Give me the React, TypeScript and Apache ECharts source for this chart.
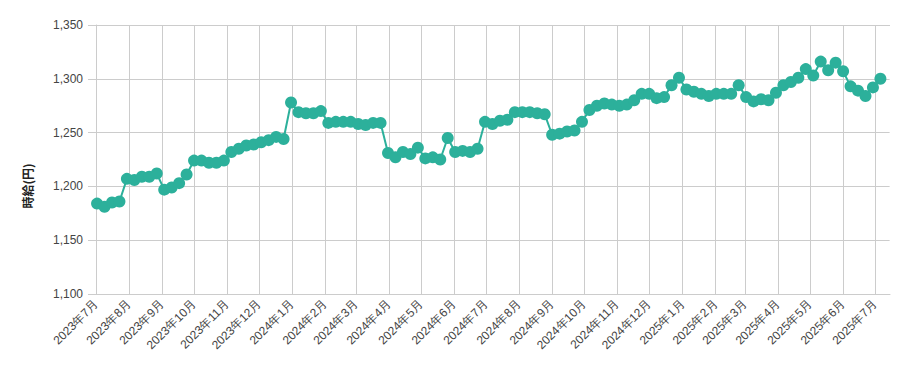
import React, { useEffect, useRef } from "react";
import * as echarts from "echarts";

// Weekly observations, first week starting 2023-07-02
const firstWeek = [2023, 7, 2];
const wageValues = [
  1184, 1181, 1185, 1186,
  1207, 1206, 1209, 1209, 1212,
  1197, 1199, 1203, 1211,
  1224, 1224, 1222, 1222, 1224,
  1232, 1235, 1238, 1239, 1241, 1243, 1246, 1244,
  1278, 1269, 1268, 1268, 1270,
  1259, 1260, 1260, 1260, 1258, 1257, 1259, 1259,
  1231, 1227, 1232, 1230, 1236,
  1226, 1227, 1225, 1245,
  1232, 1233, 1232, 1235,
  1260, 1258, 1261, 1262,
  1269, 1269, 1269, 1268, 1267,
  1248, 1249, 1251, 1252, 1260,
  1271, 1275, 1277, 1276, 1275, 1276,
  1280, 1286, 1286, 1282, 1283,
  1294, 1301,
  1290, 1288, 1286, 1284, 1286, 1286, 1286, 1294,
  1283, 1279, 1281, 1280,
  1287, 1294, 1297, 1301, 1309,
  1303, 1316, 1308, 1315, 1307,
  1293, 1289, 1284, 1292, 1300,
];
const axisStart = [2023, 7, 1];
const axisEnd = [2025, 7, 15];
const yTicks = [1100, 1150, 1200, 1250, 1300, 1350];
const yTitle = "時給(円)";

const mk = (ymd: number[], addDays = 0) => {
  const d = new Date(ymd[0], ymd[1] - 1, ymd[2]);
  d.setDate(d.getDate() + addDays);
  return d.getTime();
};

export default function App() {
  const ref = useRef<HTMLDivElement>(null);
  useEffect(() => {
    document.body.style.margin = "0";
    const chart = echarts.init(ref.current!, undefined, { renderer: "svg" });
    const DAY = 86400000;
    const data = wageValues.map((v, i) => [mk(firstWeek, i * 7), v]);
    const font = "'Liberation Sans', Arial, Helvetica, sans-serif";
    const labelColor = "#444444";
    chart.setOption({
      animation: false,
      grid: { left: 96, right: 19, top: 25, bottom: 77, containLabel: false, outerBoundsMode: "none" },
      xAxis: {
        type: "time",
        min: mk(axisStart),
        max: mk(axisEnd),
        minInterval: 28 * DAY,
        maxInterval: 31 * DAY,
        splitNumber: 25,
        axisLine: { show: true, lineStyle: { color: "#cccccc", width: 1 } },
        axisTick: { show: false },
        splitLine: { show: true, showMaxLine: false, lineStyle: { color: "#cccccc", width: 1 } },
        axisLabel: {
          rotate: 45,
          margin: 8,
          fontSize: 12,
          color: labelColor,
          fontFamily: font,
          hideOverlap: false,
          showMaxLabel: false,
          formatter: (value: number) => {
            const d = new Date(value);
            return `${d.getFullYear()}年${d.getMonth() + 1}月`;
          },
        },
      },
      yAxis: {
        type: "value",
        min: yTicks[0],
        max: yTicks[yTicks.length - 1],
        interval: yTicks[1] - yTicks[0],
        axisLine: { show: true, lineStyle: { color: "#cccccc", width: 1 } },
        axisTick: { show: true, length: 8, lineStyle: { color: "#cccccc", width: 1 } },
        splitLine: { show: true, lineStyle: { color: "#cccccc", width: 1 } },
        axisLabel: {
          margin: 13,
          fontSize: 12,
          color: labelColor,
          fontFamily: font,
          formatter: (v: number) => v.toLocaleString("en-US"),
        },
      },
      graphic: {
        z: 50,
        elements: [
          {
            type: "text",
            x: 27,
            y: 186,
            rotation: Math.PI / 2,
            style: {
              text: yTitle,
              fill: "#222222",
              font: "bold 12px 'Noto Sans CJK JP', sans-serif",
              align: "center",
              verticalAlign: "middle",
            },
          },
          {
            type: "rect",
            z: 100,
            shape: { x: 889.6, y: 26, width: 2, height: 267 },
            style: { fill: "#ffffff" },
          },
        ],
      },
      series: [
        {
          type: "line",
          data,
          z: 60,
          symbol: "circle",
          symbolSize: 12,
          showSymbol: true,
          itemStyle: { color: "#2cb09b" },
          lineStyle: { color: "#2cb09b", width: 2 },
        },
      ],
    });
    return () => chart.dispose();
  }, []);
  return <div ref={ref} style={{ width: 909, height: 371 }} />;
}
